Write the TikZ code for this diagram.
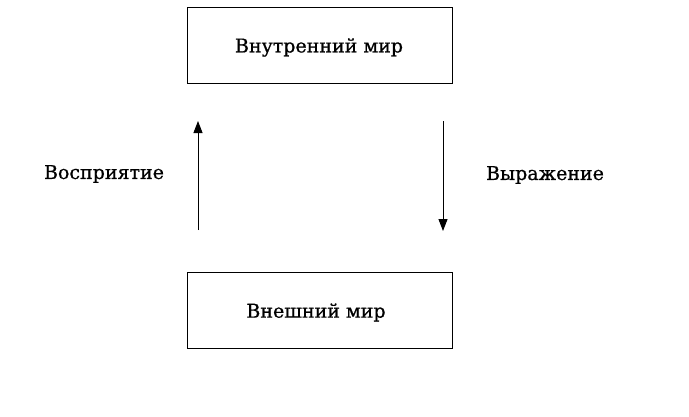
\documentclass[tikz,border=0pt]{standalone}
\usepackage{fontspec}
\setmainfont{DejaVu Serif}
\newfontfamily\lblfont{DejaVu Serif}[FakeBold=0.8]
\usetikzlibrary{arrows.meta}
\begin{document}
\begin{tikzpicture}[x=1pt,y=-1pt,
  box/.style={draw,line width=1pt,minimum width=265pt,minimum height=76pt,inner sep=0pt},
  txt/.style={font=\lblfont\fontsize{19}{22}\selectfont,inner sep=0pt},
  arr/.style={line width=1pt,-{Triangle[width=9pt,length=12pt]}}]
\useasboundingbox (0,0) rectangle (689,416);
\node[box] (inner) at (319.5,45) {};
\node[box] (outer) at (319.5,310) {};
\node[txt] (innert) at (319,47.5) {Внутренний мир};
\node[txt] (outert) at (316,312.5) {Внешний мир};
\coordinate (ls) at (198,230);
\coordinate (le) at (198,121);
\coordinate (rs) at (443,121);
\coordinate (re) at (443,231);
\draw[arr] (ls) -- (le);
\draw[arr] (rs) -- (re);
\node[txt] (perc) at (104,174) {Восприятие};
\node[txt] (expr) at (545,175) {Выражение};
\end{tikzpicture}
\end{document}
